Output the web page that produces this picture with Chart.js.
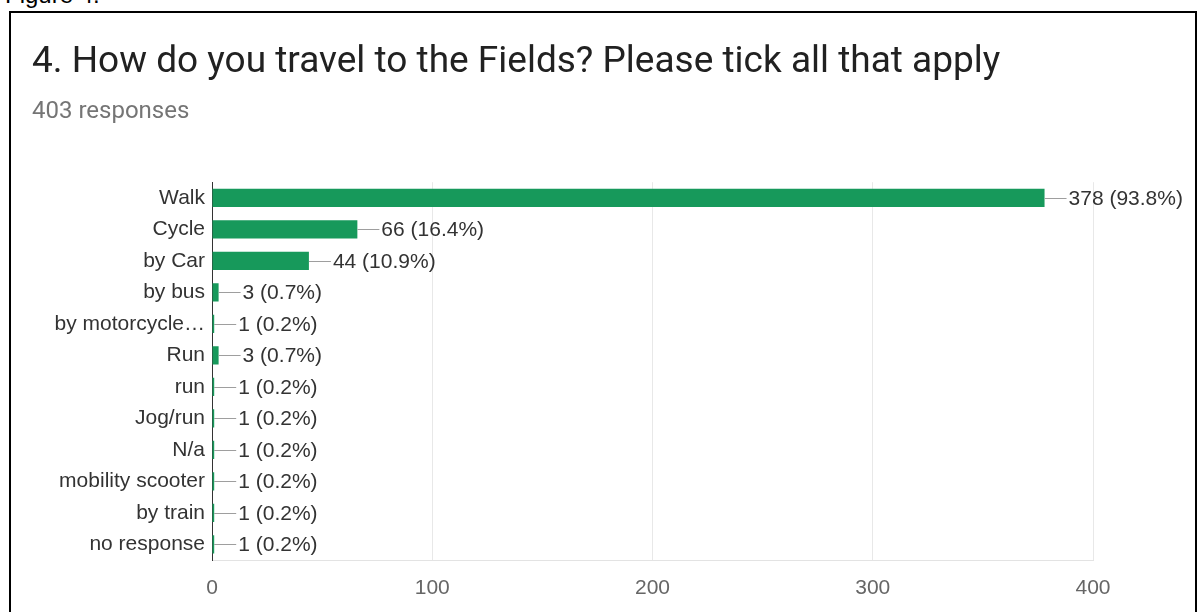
<!DOCTYPE html>
<html>
<head>
<meta charset="utf-8">
<script src="https://cdn.jsdelivr.net/npm/chart.js@4"></script>
<style>
  html, body { margin: 0; padding: 0; background: #fff; overflow: hidden; }
  body { width: 1203px; height: 612px; position: relative; font-family: Arial, "Liberation Sans", sans-serif; }
  #fig { position: absolute; left: 5px; top: -19px; font-size: 24px; color: #000; }
  #frame { position: absolute; left: 9px; top: 11px; width: 1184px; height: 640px; border: 2px solid #000; }
  #wrap { position: absolute; left: 11px; top: 13px; width: 1182px; height: 599px; }
</style>
</head>
<body>
<div id="fig">Figure 4.</div>
<div id="frame"></div>
<div id="wrap"><canvas id="travelChart"></canvas></div>
<script>
// answers to question 4
const categories = ["Walk", "Cycle", "by Car", "by bus", "by motorcycle\u2026", "Run", "run", "Jog/run", "N/a", "mobility scooter", "by train", "no response"];
const counts = [378, 66, 44, 3, 1, 3, 1, 1, 1, 1, 1, 1];
const percents = ["93.8", "16.4", "10.9", "0.7", "0.2", "0.7", "0.2", "0.2", "0.2", "0.2", "0.2", "0.2"];
const xTicks = [0, 100, 200, 300, 400];

const labelFont = "Arial, 'Liberation Sans', sans-serif";
const headFont = "Roboto, Arial, sans-serif";

// draws the little leader line + "n (p%)" after each bar
const valueLabels = {
  id: "valueLabels",
  afterDatasetsDraw(chart) {
    const ctx = chart.ctx;
    const meta = chart.getDatasetMeta(0);
    ctx.save();
    ctx.font = "21px " + labelFont;
    ctx.textBaseline = "middle";
    ctx.textAlign = "left";
    meta.data.forEach((bar, i) => {
      const x = bar.x;
      const y = bar.y;
      ctx.strokeStyle = "#9e9e9e";
      ctx.lineWidth = 1;
      ctx.beginPath();
      ctx.moveTo(x, Math.round(y) + 0.5);
      ctx.lineTo(x + 22, Math.round(y) + 0.5);
      ctx.stroke();
      ctx.fillStyle = "#333";
      ctx.fillText(counts[i] + " (" + percents[i] + "%)", x + 24, y + 1);
    });
    ctx.restore();
  },
};

const ctx = document.getElementById("travelChart").getContext("2d");

const travelChart = new Chart(ctx, {
  type: "bar",
  data: {
    labels: categories,
    datasets: [
      {
        data: counts,
        backgroundColor: "#17995b",
        borderWidth: 0,
        barPercentage: 0.58,
        categoryPercentage: 1,
      },
    ],
  },
  options: {
    indexAxis: "y",
    responsive: true,
    maintainAspectRatio: false,
    animation: false,
    layout: {
      padding: { left: 21, right: 100, top: 0, bottom: 0 },
    },
    plugins: {
      legend: { display: false },
      tooltip: { enabled: false },
      title: {
        display: true,
        text: "4. How do you travel to the Fields? Please tick all that apply",
        align: "start",
        color: "#212121",
        font: { size: 37, family: headFont, weight: "normal", lineHeight: 1.2 },
        padding: { top: 28, bottom: 5 },
      },
      subtitle: {
        display: true,
        text: "403 responses",
        align: "start",
        color: "#757575",
        font: { size: 24, family: headFont, weight: "normal", lineHeight: 1.2 },
        padding: { top: 7, bottom: 56 },
      },
    },
    scales: {
      x: {
        min: 0,
        max: 400,
        afterBuildTicks(scale) {
          scale.ticks = xTicks.map((v) => ({ value: v }));
        },
        afterFit(scale) {
          scale.height = 52;
        },
        grid: { color: "#e8e8e8", drawTicks: false },
        border: { color: "#e3e3e3" },
        ticks: {
          color: "#666",
          padding: 16,
          font: { size: 21, family: labelFont },
        },
      },
      y: {
        afterFit(scale) {
          scale.width = 180;
        },
        grid: { display: false, drawTicks: false },
        border: { color: "#333", width: 1 },
        ticks: {
          color: "#333",
          padding: 7,
          font: { size: 21, family: labelFont },
        },
      },
    },
  },
  plugins: [valueLabels],
});
</script>
</body>
</html>
